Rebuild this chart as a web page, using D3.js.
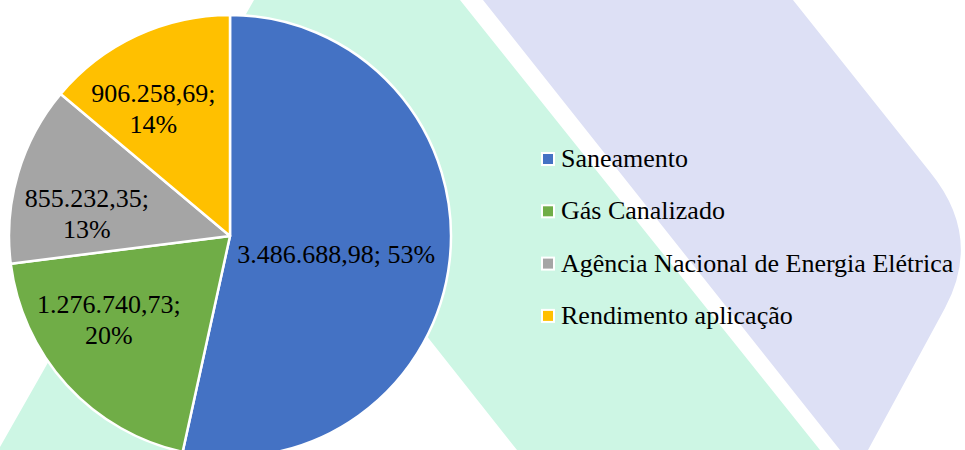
<!DOCTYPE html>
<html>
<head>
<meta charset="utf-8">
<script src="https://cdn.jsdelivr.net/npm/d3@7"></script>
<style>
  html, body { margin: 0; padding: 0; background: #fff; }
  svg { display: block; }
</style>
</head>
<body>
<script>
// chart data
var categories = ["Saneamento", "Gás Canalizado", "Agência Nacional de Energia Elétrica", "Rendimento aplicação"];
var values = [3486688.98, 1276740.73, 855232.35, 906258.69];
var valueLabels = ["3.486.688,98", "1.276.740,73", "855.232,35", "906.258,69"];
var colors = ["#4472C4", "#70AD47", "#A5A5A5", "#FFC000"];

var width = 965, height = 450;
var cx = 230, cy = 236, radius = 221;
var fontSize = 26;
var serif = "'Liberation Serif', 'Times New Roman', Tinos, 'DejaVu Serif', serif";

// label placement (radius factor, angle shift in degrees), like excel "best fit"
var labelPlace = [[0.487, 3.4], [0.665, 8], [0.656, -7.4], [0.674, -6]];

var svg = d3.select("body").append("svg")
	.attr("width", width).attr("height", height);

// watermark shapes in the background
var bg = svg.append("g");
bg.append("path")
	.attr("d", "M254,0 L460,0 L820,450 L517,450 L350,239 L230,450 L0,450 L0,447 Z")
	.style("fill", "#cdf6e4");
bg.append("path")
	.attr("d", "M483,0 L793,0 L930,172 Q983,237 945,308 L868,450 L840,450 Z")
	.style("fill", "#dde0f5");

var total = d3.sum(values);
var data = values.map(function(v, i) {
	return {name: categories[i], value: v, label: valueLabels[i], color: colors[i], i: i};
});

var pie = d3.pie()
	.sort(null)
	.value(function(d) { return d.value; });

var arc = d3.arc().innerRadius(0).outerRadius(radius);

var g = svg.append("g").attr("transform", "translate(" + cx + "," + cy + ")");
var arcs = pie(data);

g.selectAll("path.slice")
	.data(arcs)
	.enter().append("path")
	.attr("class", "slice")
	.attr("d", arc)
	.style("fill", function(d) { return d.data.color; })
	.style("stroke", "#fff")
	.style("stroke-width", 2.5)
	.style("stroke-linejoin", "round");

// data labels
var labels = g.selectAll("text.lbl")
	.data(arcs)
	.enter().append("text")
	.attr("class", "lbl")
	.attr("text-anchor", "middle")
	.attr("font-family", serif)
	.style("font-family", serif)
	.style("font-size", fontSize + "px")
	.style("fill", "#000")
	.attr("transform", function(d) {
		var p = labelPlace[d.data.i];
		var a = (d.startAngle + d.endAngle) / 2 + p[1] * Math.PI / 180;
		var r = radius * p[0];
		return "translate(" + (Math.sin(a) * r) + "," + (-Math.cos(a) * r) + ")";
	});

labels.each(function(d) {
	var t = d3.select(this);
	var pct = Math.round(d.data.value / total * 100) + "%";
	if (d.data.i === 0) {
		t.append("tspan").attr("x", 0).attr("y", 9).text(d.data.label + "; " + pct);
	} else {
		t.append("tspan").attr("x", 0).attr("y", -6).text(d.data.label + ";");
		t.append("tspan").attr("x", 0).attr("y", 25).text(pct);
	}
});

// legend
var legend = svg.append("g").attr("transform", "translate(541,0)");
var item = legend.selectAll("g")
	.data(data)
	.enter().append("g")
	.attr("transform", function(d, i) { return "translate(0," + (167 + i * 52.3) + ")"; });

item.append("rect")
	.attr("x", 0).attr("y", -15)
	.attr("width", 14).attr("height", 14)
	.style("fill", "#fff");
item.append("rect")
	.attr("x", 2).attr("y", -13)
	.attr("width", 10).attr("height", 10)
	.style("fill", function(d) { return d.color; });
item.append("text")
	.attr("x", 20).attr("y", 0)
	.attr("font-family", serif)
	.style("font-family", serif)
	.style("font-size", fontSize + "px")
	.style("fill", "#000")
	.text(function(d) { return d.name; });
</script>
</body>
</html>
